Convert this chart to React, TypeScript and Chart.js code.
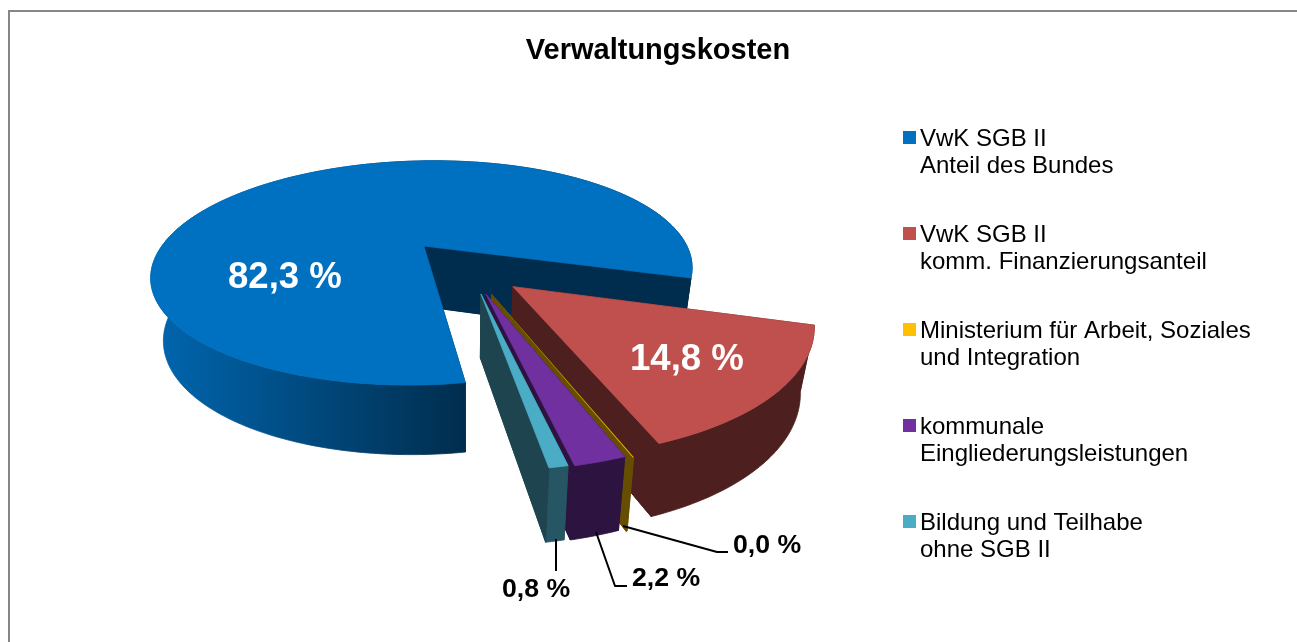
import React, { useEffect, useRef } from "react";
import { Chart, PieController, ArcElement, Title } from "chart.js";

// ---- data ----
const categories: string[][] = [
  ["VwK SGB II", "Anteil des Bundes"],
  ["VwK SGB II", "komm. Finanzierungsanteil"],
  ["Ministerium für Arbeit, Soziales", "und Integration"],
  ["kommunale", "Eingliederungsleistungen"],
  ["Bildung und Teilhabe", "ohne SGB II"],
];
const shares: number[] = [82.3, 14.8, 0.04, 2.2, 0.8];
const chartTitle = "Verwaltungskosten";

// ---- styles ----
const colors = ["#0070C0", "#C0504D", "#FFC000", "#7030A0", "#4BACC6"];
const explodePercent = [23, 25, 26, 25, 24.5];
const explodeTurnDeg = [0, 3, -2, -2, -3.7];
const wallBoost = [0, 0, 0, 0, 0.1];
const FONT = "Arial, 'Liberation Sans', sans-serif";

// camera that maps the unit pie plane to the screen
const CAM = { ox: 463.5, oy: 265, A: 274, B: 115, t: -1, p: 0.25, s: 0, drop: 62, vx: 467, k: 0.96 };

function wOf(U: number, V: number) {
  return 1 - CAM.p * V + CAM.s * U;
}
function top(U: number, V: number): [number, number] {
  const w = wOf(U, V);
  return [CAM.ox + (CAM.A * U) / w, CAM.oy + (CAM.B * V + CAM.t * U) / w];
}
function bottom(U: number, V: number): [number, number] {
  const [x, y] = top(U, V);
  return [CAM.vx + (x - CAM.vx) * CAM.k, y + CAM.drop / Math.sqrt(wOf(U, V))];
}
function rgbOf(hex: string) {
  return [1, 3, 5].map((i) => parseInt(hex.slice(i, i + 2), 16));
}
function shade(hex: string, m: number) {
  const [r, g, b] = rgbOf(hex);
  return `rgb(${Math.round(r * m)},${Math.round(g * m)},${Math.round(b * m)})`;
}
function poly(
  ctx: CanvasRenderingContext2D,
  pts: [number, number][],
  fill: string | CanvasGradient,
  seal = false
) {
  ctx.beginPath();
  pts.forEach((p, i) => (i ? ctx.lineTo(p[0], p[1]) : ctx.moveTo(p[0], p[1])));
  ctx.closePath();
  ctx.fillStyle = fill;
  ctx.fill();
  if (seal) {
    ctx.strokeStyle = fill;
    ctx.lineWidth = 0.8;
    ctx.lineJoin = "round";
    ctx.stroke();
  }
}

// Slices are drawn from the angles the pie controller computed.
(ArcElement.prototype as any).draw = function (ctx: CanvasRenderingContext2D) {
  const idx = (this as any).$context?.dataIndex ?? 0;
  const { startAngle, endAngle, options } = this as any;
  const color: string = options.backgroundColor;
  const mid = (startAngle + endAngle) / 2 + (explodeTurnDeg[idx] * Math.PI) / 180;
  const e = options.offset / 100;
  const cu = Math.cos(mid) * e;
  const cv = Math.sin(mid) * e;
  const spanDeg = ((endAngle - startAngle) * 180) / Math.PI;
  const n = Math.max(2, Math.ceil(spanDeg));
  const rim: [number, number][] = [];
  for (let i = 0; i <= n; i++) {
    const a = startAngle + ((endAngle - startAngle) * i) / n;
    rim.push([cu + Math.cos(a), cv + Math.sin(a)]);
  }
  const base = 0.4 + wallBoost[idx];
  const rimTop = rim.map((p) => top(p[0], p[1]));
  const rimBot = rim.map((p) => bottom(p[0], p[1]));
  const a0 = top(cu, cv);
  const b0 = bottom(cu, cv);

  // radial faces
  poly(ctx, [a0, rimTop[0], rimBot[0], b0], shade(color, 0.4), true);
  poly(ctx, [a0, rimTop[n], rimBot[n], b0], shade(color, 0.4), true);

  // outer wall with the horizontal shading
  const grad = ctx.createLinearGradient(160, 0, 467, 0);
  grad.addColorStop(0, shade(color, 0.9));
  grad.addColorStop(1, shade(color, base));
  poly(ctx, [...rimTop, ...rimBot.slice().reverse()], grad, true);

  // the face that looks at the viewer stays above the back of the wall
  poly(ctx, [a0, rimTop[n], rimBot[n], b0], shade(color, 0.4), true);

  // top face
  poly(ctx, [a0, ...rimTop], color, spanDeg > 1);
};

function pctText(v: number) {
  return v.toFixed(1).replace(".", ",") + " %";
}

// text anchors and leader lines of the value labels
const labelStyle = [
  { x: 228, y: 288, size: 36.6, color: "#FFFFFF", leader: [] as number[][] },
  { x: 630, y: 370, size: 36.6, color: "#FFFFFF", leader: [] as number[][] },
  { x: 733, y: 553, size: 26.67, color: "#000000", leader: [[623, 526], [717, 552], [728, 552]] },
  { x: 632, y: 586, size: 26.67, color: "#000000", leader: [[596, 532], [615, 586], [627, 586]] },
  { x: 502, y: 597, size: 26.67, color: "#000000", leader: [[556, 539], [556, 571]] },
];

const overlay = {
  id: "overlay",
  beforeDraw(chart: any) {
    const { ctx, width, height } = chart;
    ctx.save();
    ctx.fillStyle = "#FFFFFF";
    ctx.fillRect(0, 0, width, height);
    ctx.fillStyle = "#868686";
    ctx.fillRect(8, 10, width - 8, 2);
    ctx.fillRect(8, 10, 2, height - 10);
    ctx.restore();
  },
  afterDatasetsDraw(chart: any) {
    const { ctx } = chart;
    const ds = chart.data.datasets[0];
    ctx.save();
    labelStyle.forEach((s, i) => {
      if (s.leader.length) {
        ctx.beginPath();
        s.leader.forEach((p, j) => (j ? ctx.lineTo(p[0], p[1]) : ctx.moveTo(p[0], p[1])));
        ctx.strokeStyle = "#000000";
        ctx.lineWidth = 2;
        ctx.stroke();
      }
      ctx.font = `bold ${s.size}px ${FONT}`;
      ctx.fillStyle = s.color;
      ctx.textAlign = "left";
      ctx.textBaseline = "alphabetic";
      ctx.fillText(pctText(ds.data[i]), s.x, s.y);
    });
    // legend
    ctx.font = `24px ${FONT}`;
    (chart.data.labels as string[][]).forEach((lines, i) => {
      const rowTop = 131 + i * 96;
      ctx.fillStyle = ds.backgroundColor[i];
      ctx.fillRect(903, rowTop, 13, 13);
      ctx.fillStyle = "#000000";
      lines.forEach((line, j) => ctx.fillText(line, 920, rowTop + 15 + j * 27));
    });
    ctx.restore();
  },
};

Chart.register(PieController, ArcElement, Title);

export default function App() {
  const ref = useRef<HTMLCanvasElement>(null);
  useEffect(() => {
    const chart = new Chart(ref.current!, {
      type: "pie",
      data: {
        labels: categories,
        datasets: [
          {
            data: shares,
            backgroundColor: colors,
            offset: explodePercent,
            borderWidth: 0,
            clip: false,
          } as any,
        ],
      },
      options: {
        responsive: false,
        animation: false,
        devicePixelRatio: 1,
        rotation: 171,
        layout: { padding: { left: 19 } },
        plugins: {
          title: {
            display: true,
            text: chartTitle,
            color: "#000000",
            font: { family: FONT, size: 29, weight: "bold" },
            padding: { top: 34, bottom: 0 },
          },
        },
      },
      plugins: [overlay],
    } as any);
    return () => chart.destroy();
  }, []);
  return (
    <canvas
      ref={ref}
      width={1297}
      height={642}
      style={{ position: "fixed", left: 0, top: 0, display: "block" }}
    />
  );
}
